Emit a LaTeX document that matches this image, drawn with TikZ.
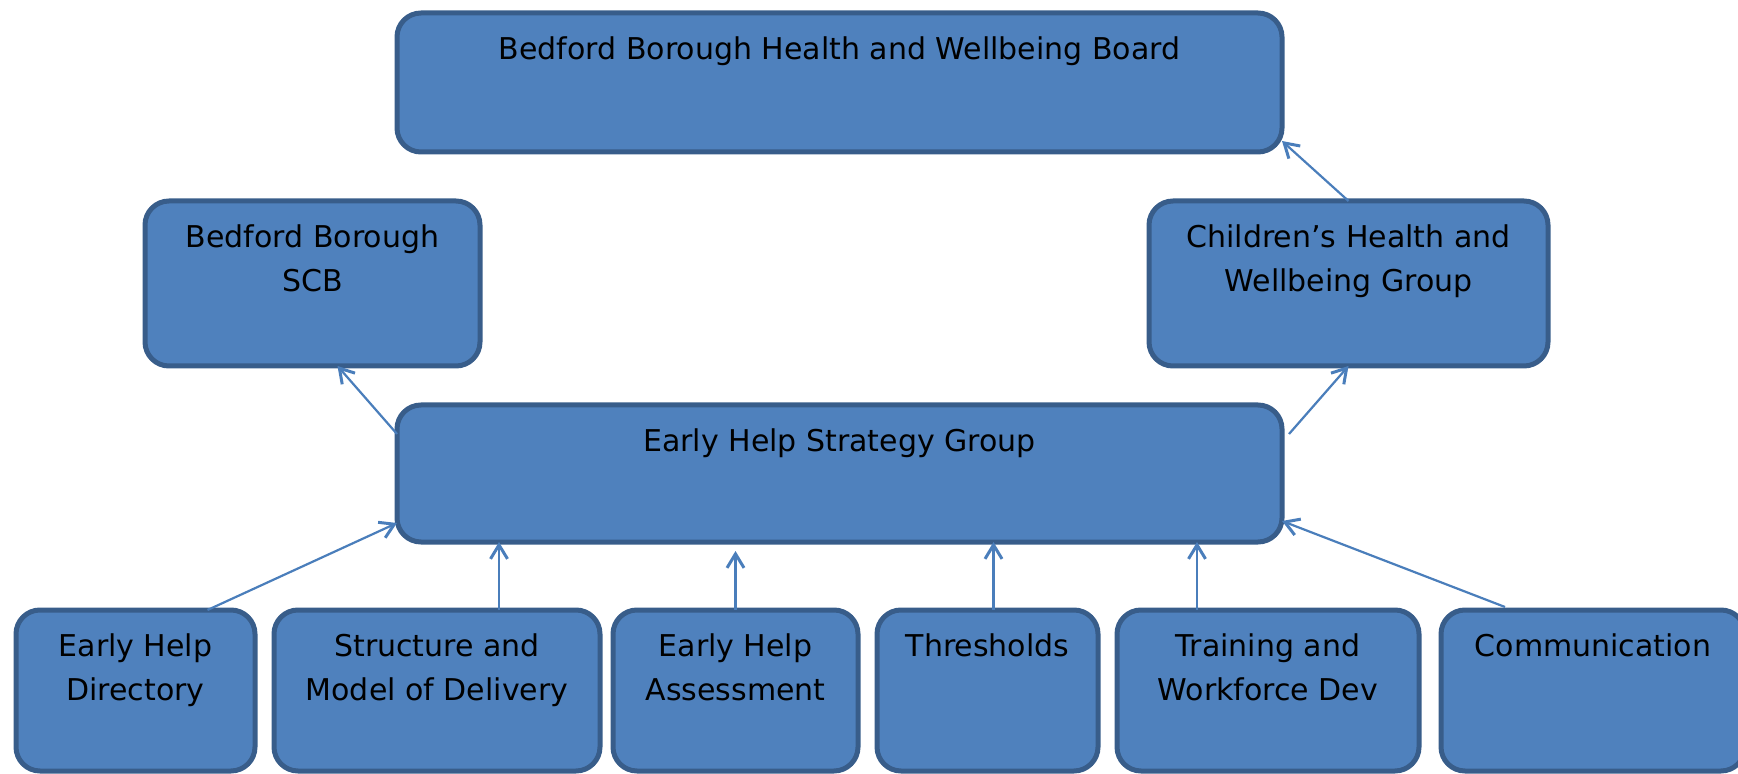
\documentclass[tikz,border=0pt]{standalone}
\usepackage{fontspec}
\setmainfont{DejaVu Sans}
\usepackage{xcolor}
\usetikzlibrary{arrows.meta,calc,fit,positioning}
\definecolor{ehFill}{RGB}{79,129,189}
\definecolor{ehEdge}{RGB}{56,93,138}
\definecolor{ehLink}{RGB}{74,126,187}
\tikzset{
  grpbox/.style={
    fill=ehFill,
    draw=ehEdge,
    line width=2.5pt,
    rounded corners=12pt,
    inner sep=0pt,
    outer sep=0pt
  },
  grptext/.style={
    anchor=north,
    align=center,
    inner sep=0pt,
    yshift=-11.5pt,
    font=\fontsize{15}{22}\selectfont
  },
  link/.style={
    draw=ehLink,
    line width=1.1pt,
    -{Straight Barb[length=7pt,width=8.5pt,line width=1.5pt]}
  }
}

\begin{document}
\begin{tikzpicture}[x=0.5pt,y=-0.5pt]
  \useasboundingbox (0,0) rectangle (1738,774);
  % top of the tree
  \node[grpbox,fit={(397,13) (1282,152)},
    label={[grptext]north:Bedford Borough Health and Wellbeing Board}] (board) {};
  % middle row
  \node[grpbox,fit={(145,201) (480,366)},
    label={[grptext]north:Bedford Borough\\SCB}] (scb) {};
  \node[grpbox,fit={(1149,201) (1548,366)},
    label={[grptext]north:Children’s Health and\\Wellbeing Group}] (chwg) {};
  \node[grpbox,fit={(397,405) (1282,542)},
    label={[grptext]north:Early Help Strategy Group}] (ehsg) {};
  % workstreams
  \node[grpbox,fit={(16,610) (255,771)},
    label={[grptext]north:Early Help\\Directory}] (dir) {};
  \node[grpbox,fit={(274,610) (600,771)},
    label={[grptext]north:Structure and\\Model of Delivery}] (model) {};
  \node[grpbox,fit={(613,610) (858,771)},
    label={[grptext]north:Early Help\\Assessment}] (assess) {};
  \node[grpbox,fit={(877,610) (1098,771)},
    label={[grptext]north:Thresholds}] (thresh) {};
  \node[grpbox,fit={(1117,610) (1419,771)},
    label={[grptext]north:Training and\\Workforce Dev}] (train) {};
  \node[grpbox,fit={(1441,610) (1745,771)},
    label={[grptext]north:Communication}] (comm) {};

  % reporting lines
  \draw[link] (chwg.north) -- ([yshift=5.5pt]board.south east);
  \draw[link] ($(ehsg.north east)+(7,29)$) -- (chwg.south);
  \draw[link] ($(ehsg.north west)+(0,29)$) -- ($(scb.south)+(25,0)$);
  \draw[link] ([xshift=36pt]dir.north) -- ([yshift=9.5pt]ehsg.south west);
  \draw[link] ([xshift=31pt]model.north) -- ([xshift=31pt]model.north |- ehsg.south);
  \draw[link] (assess.north) -- ([yshift=-4.5pt]assess.north |- ehsg.south);
  \draw[link] ([xshift=3pt]thresh.north) -- ([xshift=3pt]thresh.north |- ehsg.south);
  \draw[link] ([xshift=-35.5pt]train.north) -- ([xshift=-35.5pt]train.north |- ehsg.south);
  \draw[link] ([xshift=-44pt,yshift=1.5pt]comm.north) -- ([yshift=10.5pt]ehsg.south east);
\end{tikzpicture}
\end{document}
